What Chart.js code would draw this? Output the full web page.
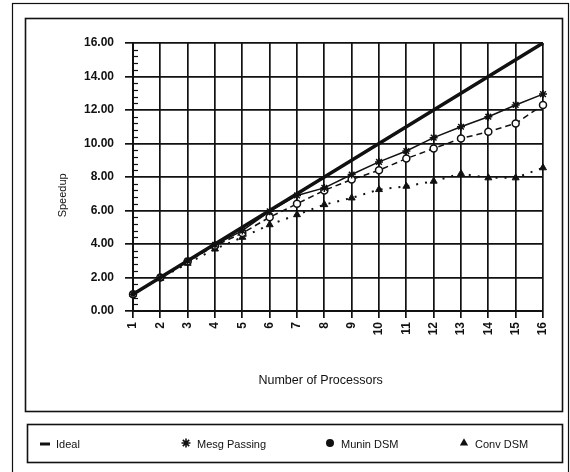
<!DOCTYPE html>
<html>
<head>
<meta charset="utf-8">
<script src="https://cdn.jsdelivr.net/npm/chart.js@4.4.0/dist/chart.umd.min.js"></script>
<style>
  html, body { margin: 0; padding: 0; background: #fff; }
  #wrap { width: 570px; height: 472px; }
</style>
</head>
<body>
<div id="wrap"><canvas id="chart" width="570" height="472"></canvas></div>
<script>
const processors = ['1', '2', '3', '4', '5', '6', '7', '8', '9', '10', '11', '12', '13', '14', '15', '16'];
const ideal = [1, 2, 3, 4, 5, 6, 7, 8, 9, 10, 11, 12, 13, 14, 15, 16];
const mesgPassing = [1.0, 2.0, 3.0, 3.95, 4.8, 5.95, 6.9, 7.35, 8.15, 8.9, 9.55, 10.35, 11.0, 11.6, 12.3, 12.95];
const muninDsm = [1.0, 2.0, 2.95, 3.9, 4.65, 5.6, 6.4, 7.2, 7.85, 8.4, 9.1, 9.7, 10.3, 10.7, 11.2, 12.3];
const convDsm = [1.0, 1.95, 2.85, 3.7, 4.4, 5.15, 5.75, 6.35, 6.75, 7.25, 7.45, 7.75, 8.2, 7.95, 7.95, 8.55];

const FONT = '"Liberation Sans", Arial, sans-serif';
const INK = '#111';

// boxes round the chart and the legend
const framePlugin = {
    id: 'frames',
    beforeDraw(chart) {
        const ctx = chart.ctx;
        ctx.save();
        ctx.fillStyle = '#fff';
        ctx.fillRect(0, 0, chart.width, chart.height);
        ctx.strokeStyle = INK;
        ctx.lineWidth = 1.2;
        ctx.strokeRect(12.5, 3.5, 556, 480);
        ctx.lineWidth = 1.6;
        ctx.strokeRect(25.5, 18.5, 537, 393);
        ctx.strokeRect(27.5, 424.5, 535, 38);
        ctx.restore();
    }
};

// little ticks between the labelled y values
const minorTicks = {
    id: 'minorTicks',
    afterDraw(chart) {
        const y = chart.scales.y;
        const left = chart.chartArea.left;
        const ctx = chart.ctx;
        ctx.save();
        ctx.strokeStyle = INK;
        ctx.lineWidth = 1.2;
        for (let i = 0; i <= 40; i++) {
            if (i % 5 === 0) continue;
            const py = Math.round(y.getPixelForValue(i * 0.4)) + 0.5;
            ctx.beginPath();
            ctx.moveTo(left, py);
            ctx.lineTo(left + 5, py);
            ctx.stroke();
        }
        ctx.restore();
    }
};

const legendX = [40, 186, 330, 464];
const legendY = 444;

const boxLegend = {
    id: 'boxLegend',
    afterDraw(chart) {
        const ctx = chart.ctx;
        ctx.save();
        ctx.font = '11px ' + FONT;
        ctx.textBaseline = 'middle';
        ctx.fillStyle = INK;
        ctx.strokeStyle = INK;
        chart.data.datasets.forEach((ds, i) => {
            const x = legendX[i];
            if (ds.pointStyle === false) {
                ctx.lineWidth = 3;
                ctx.beginPath();
                ctx.moveTo(x, legendY);
                ctx.lineTo(x + 10, legendY);
                ctx.stroke();
                ctx.fillText(ds.label, x + 16, legendY + 1);
            } else {
                ctx.lineWidth = 1.6;
                ctx.fillStyle = INK;
                ctx.strokeStyle = INK;
                Chart.helpers.drawPoint(ctx, {
                    pointStyle: ds.pointStyle,
                    radius: ds.pointStyle === 'star' ? 4.5 : 3.2,
                    rotation: 0,
                    borderWidth: 1.6
                }, x, legendY - 1);
                ctx.fillStyle = INK;
                ctx.fillText(ds.label, x + 11, legendY + 1);
            }
        });
        ctx.restore();
    }
};

new Chart(document.getElementById('chart'), {
    type: 'line',
    data: {
        labels: processors,
        datasets: [{
            label: 'Ideal',
            data: ideal,
            borderColor: INK,
            borderWidth: 3.5,
            pointStyle: false,
            pointRadius: 0
        }, {
            label: 'Mesg Passing',
            data: mesgPassing,
            borderColor: INK,
            borderWidth: 1.5,
            pointStyle: 'star',
            pointRadius: 4,
            pointBorderWidth: 1.5,
            pointBorderColor: INK,
            pointBackgroundColor: INK
        }, {
            label: 'Munin DSM',
            data: muninDsm,
            borderColor: INK,
            borderWidth: 1.5,
            borderDash: [6, 4],
            pointStyle: 'circle',
            pointRadius: 3.5,
            pointBorderWidth: 1.5,
            pointBorderColor: INK,
            pointBackgroundColor: '#fff'
        }, {
            label: 'Conv DSM',
            data: convDsm,
            borderColor: INK,
            borderWidth: 2,
            borderDash: [2, 7],
            pointStyle: 'triangle',
            pointRadius: 4,
            pointBorderWidth: 1,
            pointBorderColor: INK,
            pointBackgroundColor: INK
        }]
    },
    options: {
        responsive: false,
        animation: false,
        layout: { padding: { left: 30, right: 27, top: 43, bottom: 61 } },
        plugins: {
            legend: { display: false },
            tooltip: { enabled: false }
        },
        scales: {
            x: {
                offset: false,
                grid: { color: INK, lineWidth: 1.7, tickLength: 7, tickColor: INK },
                border: { color: INK, width: 2 },
                ticks: {
                    color: INK,
                    font: { family: FONT, size: 12, weight: 'bold' },
                    minRotation: 90,
                    maxRotation: 90,
                    padding: 4
                },
                title: {
                    display: true,
                    // trailing spaces pull the centred words left, as in the original
                    text: 'Number of Processors          ',
                    color: INK,
                    font: { family: FONT, size: 12.5 },
                    padding: { top: 0, bottom: 23 }
                },
                afterFit(scale) { scale.height = 100; }
            },
            y: {
                min: 0,
                max: 16,
                grid: { color: INK, lineWidth: 1.7, tickLength: 8, tickColor: INK },
                border: { color: INK, width: 2 },
                ticks: {
                    stepSize: 2,
                    color: INK,
                    font: { family: FONT, size: 12, weight: 'bold' },
                    padding: 11,
                    callback: v => v.toFixed(2)
                },
                title: {
                    display: true,
                    // trailing spaces push the rotated word lower, as in the original
                    text: 'Speedup            ',
                    color: INK,
                    font: { family: FONT, size: 11 },
                    padding: { top: 26, bottom: 0 }
                },
                afterFit(scale) { scale.width = 103; }
            }
        }
    },
    plugins: [framePlugin, minorTicks, boxLegend]
});
</script>
</body>
</html>
